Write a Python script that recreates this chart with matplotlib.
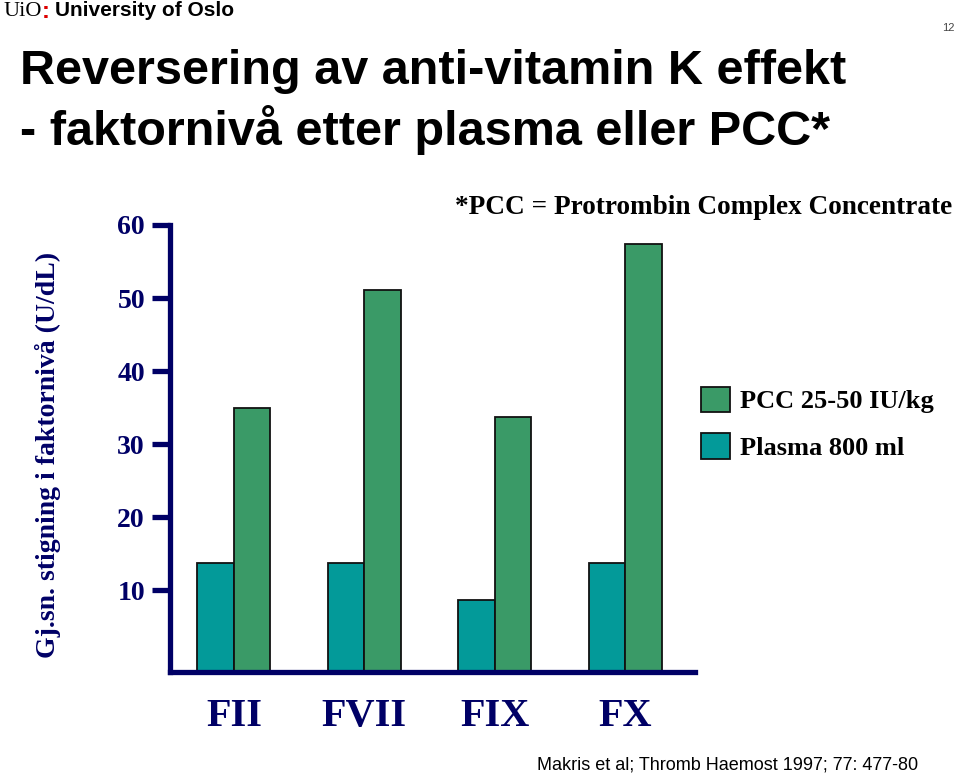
import matplotlib
matplotlib.use('Agg')
import matplotlib.pyplot as plt
import numpy as np

factors = ['FII', 'FVII', 'FIX', 'FX']
plasma = [13.7, 13.7, 8.7, 13.7]
pcc = [34.9, 51.1, 33.7, 57.4]
yticks = [10, 20, 30, 40, 50, 60]

NAVY = '#000066'
GREEN = '#3a9a67'
TEAL = '#039a99'
SERIF = 'Liberation Serif'
SANS = 'Liberation Sans'

fig = plt.figure(figsize=(9.6, 7.74), dpi=100)
fig.patch.set_facecolor('white')
ax = fig.add_axes([170 / 960, 1 - 672 / 774, (695 - 170) / 960, (672 - 225) / 774])

ymin = -1.2
x = np.arange(len(factors))
w = 0.28
ax.bar(x - w / 2, np.array(plasma) - ymin, bottom=ymin, width=w, color=TEAL,
       edgecolor='#111111', linewidth=1.3, label='Plasma 800 ml', zorder=2)
ax.bar(x + w / 2, np.array(pcc) - ymin, bottom=ymin, width=w, color=GREEN,
       edgecolor='#111111', linewidth=1.3, label='PCC 25-50 IU/kg', zorder=2)

ax.set_xlim(-0.49, 3.535)
ax.set_ylim(ymin, 60)
for s in ['top', 'right']:
    ax.spines[s].set_visible(False)
for s in ['left', 'bottom']:
    ax.spines[s].set_color(NAVY)
    ax.spines[s].set_linewidth(3.8)
    ax.spines[s].set_zorder(3)
ax.spines['left'].set_bounds(ymin, 60)

ax.set_yticks(yticks)
ax.set_yticklabels([str(v) for v in yticks], fontfamily=SERIF, fontweight='bold',
                   fontsize=20, color=NAVY)
ax.tick_params(axis='y', length=13, width=3.8, color=NAVY, pad=5)
ax.set_xticks(x)
ax.set_xticklabels(factors, fontfamily=SERIF, fontweight='bold', fontsize=29, color=NAVY)
ax.tick_params(axis='x', length=0, pad=19)

handles, labels = ax.get_legend_handles_labels()
leg = fig.legend(handles[::-1], labels[::-1], loc='upper left',
                 bbox_to_anchor=(677 / 960, 1 - 363 / 774), frameon=False,
                 prop={'family': SERIF, 'weight': 'bold', 'size': 19},
                 handlelength=1.1, handleheight=1.1, labelspacing=0.75, handletextpad=0.4)

fig.text(48 / 960, 1 - 455 / 774, 'Gj.sn. stigning i faktornivå (U/dL)', rotation=90,
         ha='center', va='center', fontfamily=SERIF, fontweight='bold', fontsize=20, color=NAVY)

fig.text(20 / 960, 1 - 72 / 774, 'Reversering av anti-vitamin K effekt', fontfamily=SANS,
         fontweight='bold', fontsize=35, ha='left', va='center', color='black')
fig.text(20 / 960, 1 - 130 / 774, '- faktornivå etter plasma eller PCC*', fontfamily=SANS,
         fontweight='bold', fontsize=35, ha='left', va='center', color='black')

fig.text(455 / 960, 1 - 207 / 774, '*PCC = Protrombin Complex Concentrate', fontfamily=SERIF,
         fontweight='bold', fontsize=19.6, ha='left', va='center', color='black')

fig.text(948 / 960, 1 - 28 / 774, '12', fontfamily=SANS, fontsize=8, ha='center',
         va='center', color='#444444')

fig.text(3 / 960, 1 - 11 / 774, 'UiO', fontfamily=SERIF, fontsize=16, ha='left',
         va='center', color='black')
fig.text(46 / 960, 1 - 11 / 774, ':', fontfamily=SANS, fontweight='bold', fontsize=17,
         ha='center', va='center', color='#dd0000')
fig.text(55 / 960, 1 - 11 / 774, 'University of Oslo', fontfamily=SANS, fontweight='bold',
         fontsize=15, ha='left', va='center', color='black')

fig.text(918 / 960, 1 - 765 / 774, 'Makris et al; Thromb Haemost 1997; 77: 477-80',
         fontfamily=SANS, fontsize=13, ha='right', va='center', color='black')

fig.savefig('out.png', dpi=100)
